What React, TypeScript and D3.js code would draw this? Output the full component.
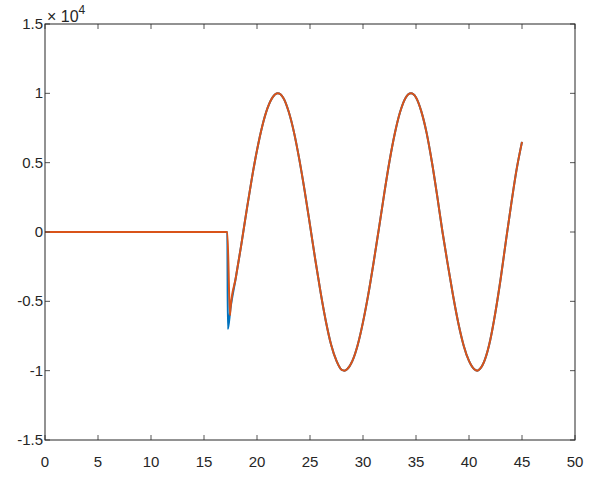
import React from "react";
import * as d3 from "d3";

const xTicks = [0, 5, 10, 15, 20, 25, 30, 35, 40, 45, 50];
const yTicks = [-15000, -10000, -5000, 0, 5000, 10000, 15000];
const yTickLabels = ["-1.5", "-1", "-0.5", "0", "0.5", "1", "1.5"];

const waveX = [17.5, 18, 18.5, 19, 19.5, 20, 20.5, 21, 21.5, 21.95, 22.5, 23, 23.5, 24, 24.5, 25, 25.5, 26, 26.5, 27, 27.5, 28, 28.24, 28.5, 29, 29.5, 30, 30.5, 31, 31.5, 32, 32.5, 33, 33.5, 34, 34.53, 35, 35.5, 36, 36.5, 37, 37.5, 38, 38.5, 39, 39.5, 40, 40.5, 40.78, 41, 41.5, 42, 42.5, 43, 43.5, 44, 44.5, 45];
const waveY = [-5500, -3300, -1000, 1450, 3800, 5900, 7650, 8950, 9750, 10000, 9650, 8650, 7150, 5200, 2950, 500, -2000, -4350, -6450, -8150, -9300, -9950, -10000, -9900, -9300, -8150, -6500, -4500, -2200, 250, 2750, 5100, 7100, 8650, 9650, 10000, 9700, 8700, 7150, 5050, 2600, 0, -2350, -4600, -6600, -8200, -9300, -9900, -10000, -9900, -9200, -7800, -5750, -3300, -550, 2100, 4550, 6500];

const flatX = [0, 17.2];
const flatY = [0, 0];
const blueDipX = [17.25];
const blueDipY = [-7000];
const orangeDipX = [17.45];
const orangeDipY = [-6000];

const W = 600, H = 480;
const L = 45, R = 575, T = 24, B = 440;

export default function App() {
  const x = d3.scaleLinear().domain([0, 50]).range([L, R]);
  const y = d3.scaleLinear().domain([-15000, 15000]).range([B, T]);

  const blue: [number, number][] = [
    ...flatX.map((v, i) => [v, flatY[i]] as [number, number]),
    ...blueDipX.map((v, i) => [v, blueDipY[i]] as [number, number]),
    ...waveX.map((v, i) => [v, waveY[i]] as [number, number]),
  ];
  const orange: [number, number][] = [
    ...flatX.map((v, i) => [v, flatY[i]] as [number, number]),
    ...orangeDipX.map((v, i) => [v, orangeDipY[i]] as [number, number]),
    ...waveX.map((v, i) => [v, waveY[i]] as [number, number]),
  ];
  const line = d3
    .line<[number, number]>()
    .x((d) => x(d[0]))
    .y((d) => y(d[1]))
    .curve(d3.curveMonotoneX);

  const axisColor = "#262626";
  const font = "Arimo, 'Liberation Sans', Arial, sans-serif";
  const tickLen = 5;

  return (
    <svg width={W} height={H} style={{ position: "absolute", left: 0, top: 0, background: "#fff" }}>
      <rect x={0} y={0} width={W} height={H} fill="#fff" />
      <path d={line(blue) || ""} fill="none" stroke="#0072BD" strokeWidth={2} strokeLinejoin="round" />
      <path d={line(orange) || ""} fill="none" stroke="#D95319" strokeWidth={2} strokeLinejoin="round" />
      {xTicks.map((t) => (
        <g key={"xt" + t}>
          <line x1={x(t)} x2={x(t)} y1={B} y2={B - tickLen} stroke="#555" />
          <line x1={x(t)} x2={x(t)} y1={T} y2={T + tickLen} stroke="#555" />
          <text x={x(t)} y={B + 27} textAnchor="middle" fontFamily={font} fontSize={15} fill={axisColor}>
            {t}
          </text>
        </g>
      ))}
      {yTicks.map((t, i) => (
        <g key={"yt" + t}>
          <line x1={L} x2={L + tickLen} y1={y(t)} y2={y(t)} stroke="#555" />
          <line x1={R} x2={R - tickLen} y1={y(t)} y2={y(t)} stroke="#555" />
          <text x={L - 2} y={y(t) + 5} textAnchor="end" fontFamily={font} fontSize={15} fill={axisColor}>
            {yTickLabels[i]}
          </text>
        </g>
      ))}
      <rect x={L} y={T} width={R - L} height={B - T} fill="none" stroke={axisColor} strokeWidth={1} />
      <text x={L + 2} y={T - 2} fontFamily={font} fontSize={16} fill={axisColor}>
        × 10
        <tspan fontSize={12} dy={-8}>4</tspan>
      </text>
    </svg>
  );
}
